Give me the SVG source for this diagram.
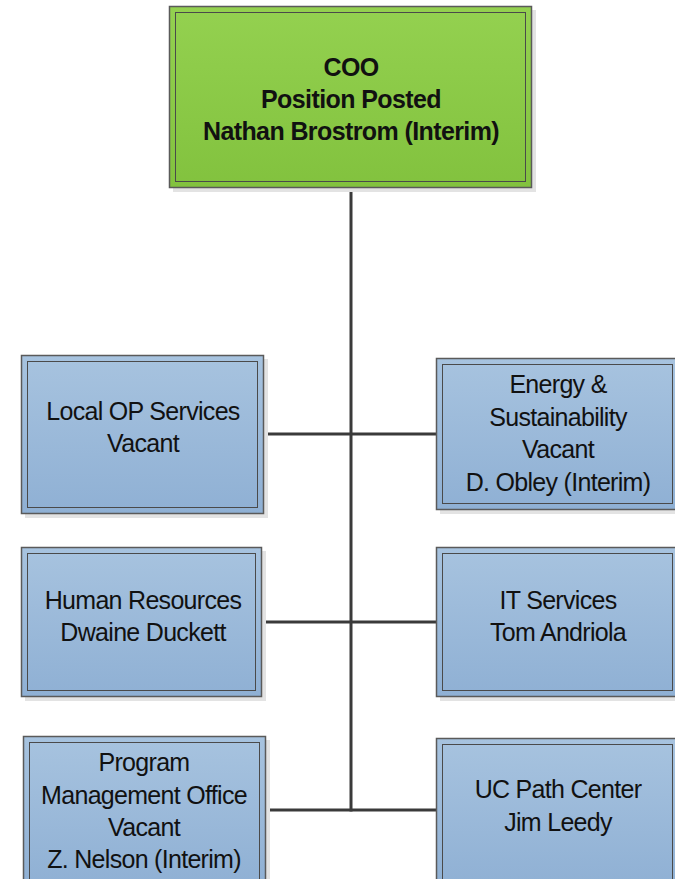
<svg xmlns="http://www.w3.org/2000/svg" width="675" height="879" viewBox="0 0 675 879">
<defs>
<linearGradient id="gb" x1="0" y1="0" x2="0" y2="1"><stop offset="0" stop-color="#a7c3df"/><stop offset="1" stop-color="#8fb0d4"/></linearGradient>
<linearGradient id="gg" x1="0" y1="0" x2="0" y2="1"><stop offset="0" stop-color="#94d150"/><stop offset="1" stop-color="#82c23e"/></linearGradient>
</defs>
<style>
.sh{fill:#e3e3e3}
.ob{fill:url(#gb);stroke:#5a5a5a;stroke-width:1.5}
.og{fill:url(#gg);stroke:#5a5a5a;stroke-width:1.5}
.in{fill:none;stroke:#4a4a4a;stroke-width:1}
.t{font-family:"Liberation Sans",Arial,sans-serif;font-size:25px;fill:#111;text-anchor:middle;letter-spacing:-0.7px}
.tb{font-family:"Liberation Sans",Arial,sans-serif;font-size:25px;font-weight:bold;fill:#111;text-anchor:middle;letter-spacing:-0.6px}
.c{stroke:#3a3a3a;stroke-width:3;fill:none}
</style>
<g id="connectors">
<line class="c" x1="351" y1="188" x2="351" y2="811.5"/>
<line class="c" x1="264" y1="434" x2="437" y2="434"/>
<line class="c" x1="262" y1="622" x2="436" y2="622"/>
<line class="c" x1="265" y1="810" x2="436" y2="810"/>
</g>
<g id="coo">
<rect class="sh" x="173" y="10" width="363" height="182"/>
<rect class="og" x="169.5" y="6.5" width="362" height="181"/>
<rect class="in" x="175.5" y="12.5" width="350" height="169"/>
<text class="tb" x="351" y="76">COO</text>
<text class="tb" x="351" y="108">Position Posted</text>
<text class="tb" x="351" y="140">Nathan Brostrom (Interim)</text>
</g>
<g id="local-op">
<rect class="sh" x="25" y="359" width="243" height="159"/>
<rect class="ob" x="21.5" y="355.5" width="242" height="158"/>
<rect class="in" x="27.5" y="361.5" width="230" height="146"/>
<text class="t" x="143" y="420">Local OP Services</text>
<text class="t" x="143" y="452">Vacant</text>
</g>
<g id="energy">
<rect class="sh" x="440" y="362" width="240" height="152"/>
<rect class="ob" x="436.5" y="358.5" width="245" height="151"/>
<rect class="in" x="442.5" y="364.5" width="230" height="139"/>
<text class="t" x="558" y="393">Energy &amp;</text>
<text class="t" x="558" y="426">Sustainability</text>
<text class="t" x="558" y="458">Vacant</text>
<text class="t" x="558" y="491">D. Obley (Interim)</text>
</g>
<g id="hr">
<rect class="sh" x="25" y="551" width="241" height="150"/>
<rect class="ob" x="21.5" y="547.5" width="240" height="149"/>
<rect class="in" x="27.5" y="553.5" width="228" height="137"/>
<text class="t" x="143" y="609">Human Resources</text>
<text class="t" x="143" y="641">Dwaine Duckett</text>
</g>
<g id="it">
<rect class="sh" x="440" y="551" width="240" height="150"/>
<rect class="ob" x="436.5" y="547.5" width="245" height="149"/>
<rect class="in" x="442.5" y="553.5" width="230" height="137"/>
<text class="t" x="558" y="609">IT Services</text>
<text class="t" x="558" y="641">Tom Andriola</text>
</g>
<g id="pmo">
<rect class="sh" x="27" y="740" width="243" height="150"/>
<rect class="ob" x="23.5" y="736.5" width="242" height="150"/>
<rect class="in" x="29.5" y="742.5" width="230" height="150"/>
<text class="t" x="144" y="771">Program</text>
<text class="t" x="144" y="804">Management Office</text>
<text class="t" x="144" y="836">Vacant</text>
<text class="t" x="144" y="868">Z. Nelson (Interim)</text>
</g>
<g id="ucpath">
<rect class="sh" x="440" y="742" width="240" height="150"/>
<rect class="ob" x="436.5" y="738.5" width="245" height="150"/>
<rect class="in" x="442.5" y="744.5" width="230" height="150"/>
<text class="t" x="558" y="798">UC Path Center</text>
<text class="t" x="558" y="831">Jim Leedy</text>
</g>
</svg>
